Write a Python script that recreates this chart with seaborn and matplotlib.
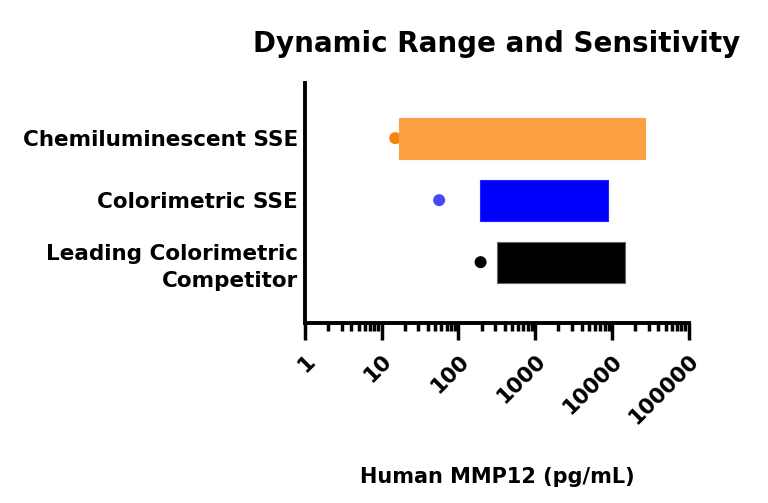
import numpy as np
import pandas as pd
import seaborn as sns
import matplotlib.pyplot as plt
from matplotlib.ticker import LogLocator, NullFormatter

# assay names (top to bottom) and values, pg/mL
assays = ['Chemiluminescent SSE', 'Colorimetric SSE', 'Leading Colorimetric\nCompetitor']
range_low = [17, 190, 320]
range_high = [27000, 8900, 14800]
sensitivity = [15, 56, 194]
bar_colors = ['#FBA042', '#0000FF', '#000000']
dot_colors = ['#F6820F', '#4848F2', '#000000']
xticks = [1, 10, 100, 1000, 10000, 100000]

df = pd.DataFrame({'assay': assays, 'low': range_low, 'high': range_high,
                   'sens': sensitivity})

sns.set_style('ticks')
plt.rcParams['font.family'] = ['DejaVu Sans']
plt.rcParams['font.weight'] = 'bold'
plt.rcParams['text.color'] = 'black'
plt.rcParams['axes.labelcolor'] = 'black'
plt.rcParams['xtick.color'] = 'black'
plt.rcParams['ytick.color'] = 'black'

fig = plt.figure(figsize=(7.68, 5.03), dpi=100)
ax = fig.add_axes([0.397, 0.358, 0.5, 0.477])

ypos = np.arange(len(assays))
ax.barh(ypos, df['high'] - df['low'], left=df['low'], height=0.66,
        color=bar_colors, edgecolor=['#FBA042', '#2222FF', '#666666'],
        linewidth=0.8, zorder=3)
sns.scatterplot(x=df['sens'], y=ypos, hue=df['assay'], palette=dot_colors,
                s=75, edgecolor='none', legend=False, ax=ax, zorder=2)

ax.set_xscale('log')
ax.set_xlim(1, 100000)
ax.set_ylim(2.98, -0.89)
ax.set_yticks(ypos)
ax.set_yticklabels(assays, fontsize=15.5, fontweight='bold', ha='right',
                   multialignment='right', linespacing=1.45, color='black')
ax.set_ylabel('')
ax.set_xticks(xticks)
ax.set_xticklabels([str(t) for t in xticks], fontsize=15.5, fontweight='bold',
                   rotation=45, ha='right', va='top', rotation_mode='anchor',
                   color='black')
ax.xaxis.set_minor_locator(LogLocator(base=10, subs=np.arange(2, 10)))
ax.xaxis.set_minor_formatter(NullFormatter())
ax.tick_params(axis='x', which='major', length=12, width=2.5, pad=8, color='black')
ax.tick_params(axis='x', which='minor', length=6, width=2.5, color='black')
ax.tick_params(axis='y', length=0, pad=5)
for side in ['left', 'bottom']:
    ax.spines[side].set_linewidth(2.8)
    ax.spines[side].set_color('black')
sns.despine(ax=ax)

ax.set_xlabel('Human MMP12 (pg/mL)', fontsize=15, fontweight='bold', labelpad=28,
              color='black')
ax.set_title('Dynamic Range and Sensitivity', fontsize=20, fontweight='bold', pad=22,
             color='black')

fig.savefig('out.png', dpi=100)
